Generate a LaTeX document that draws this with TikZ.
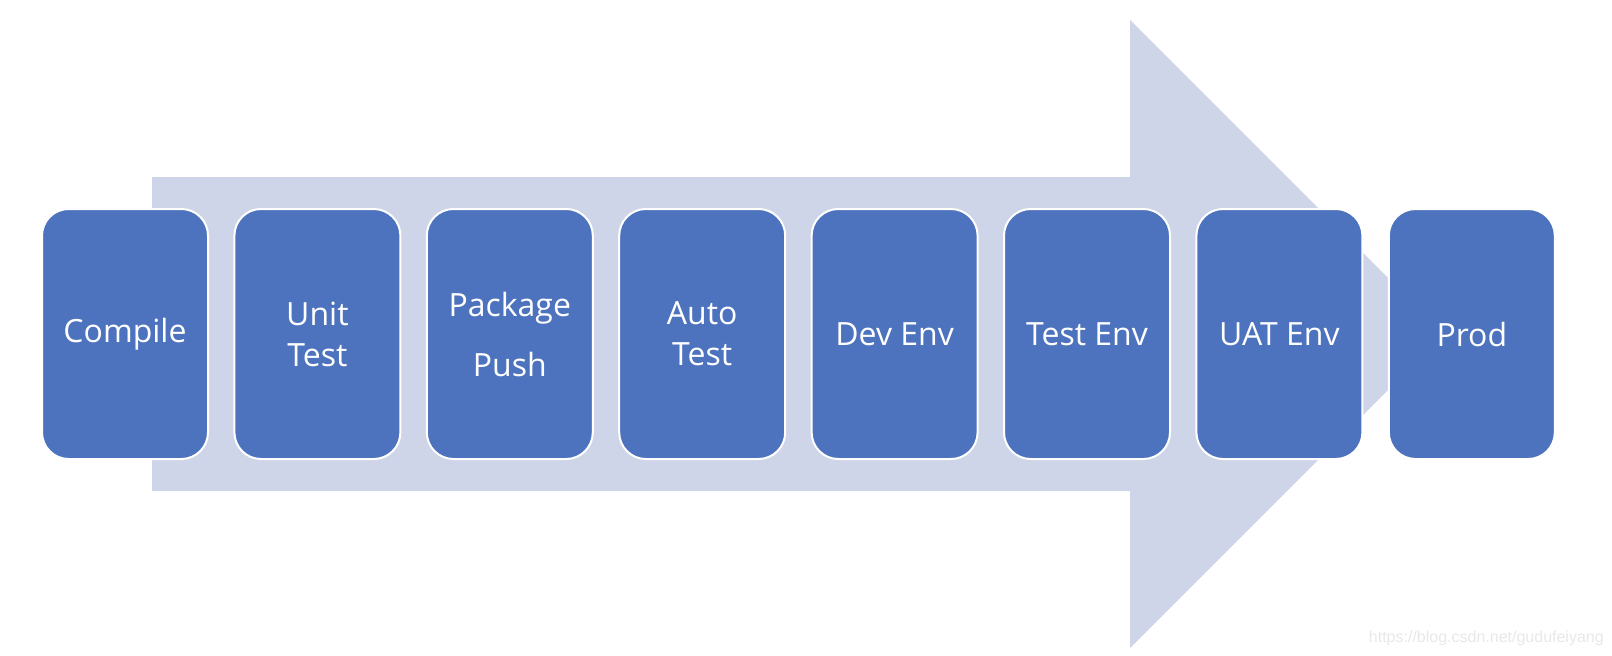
\documentclass[tikz,border=0pt]{standalone}
\usepackage{fontspec}
\newfontfamily\stagefont{Open Sans}
\newfontfamily\markfont{Liberation Sans}
\definecolor{stageblue}{HTML}{4E73BE}
\definecolor{flowgrey}{HTML}{CFD5E8}
\begin{document}
\begin{tikzpicture}[
        x=0.75pt, y=-0.75pt,
        stage/.style={draw=white, line width=1.5pt, fill=stageblue, rounded corners=20pt,
            minimum width=124.5pt, minimum height=187.5pt, align=center, text=white,
            font=\stagefont\fontsize{24}{30.75}\selectfont}
    ]
        \useasboundingbox (0,0) rectangle (1612,656);
        % Big flow arrow behind the stages
        \fill[flowgrey] (152,177) -- (1130,177) -- (1130,20) -- (1444,334)
            -- (1130,648) -- (1130,491) -- (152,491) -- cycle;
        \node[stage] (compile) at (125,334) {Compile};
        \node[stage] (unittest) at (317.4,334) {Unit\\Test};
        \node[stage] (package) at (509.8,334) {Package\\[14.25pt]Push};
        \node[stage] (autotest) at (702.2,334) {Auto\\Test};
        \node[stage] (devenv) at (894.6,334) {Dev Env};
        \node[stage] (testenv) at (1087,334) {Test Env};
        \node[stage] (uatenv) at (1279.4,334) {UAT Env};
        \node[stage] (prod) at (1471.8,334) {Prod};
        \node[anchor=east, text=black!9, font=\markfont\fontsize{12}{14}\selectfont, inner sep=0pt] (mark) at (1604,638) {https://blog.csdn.net/gudufeiyang};
    \end{tikzpicture}
\end{document}
